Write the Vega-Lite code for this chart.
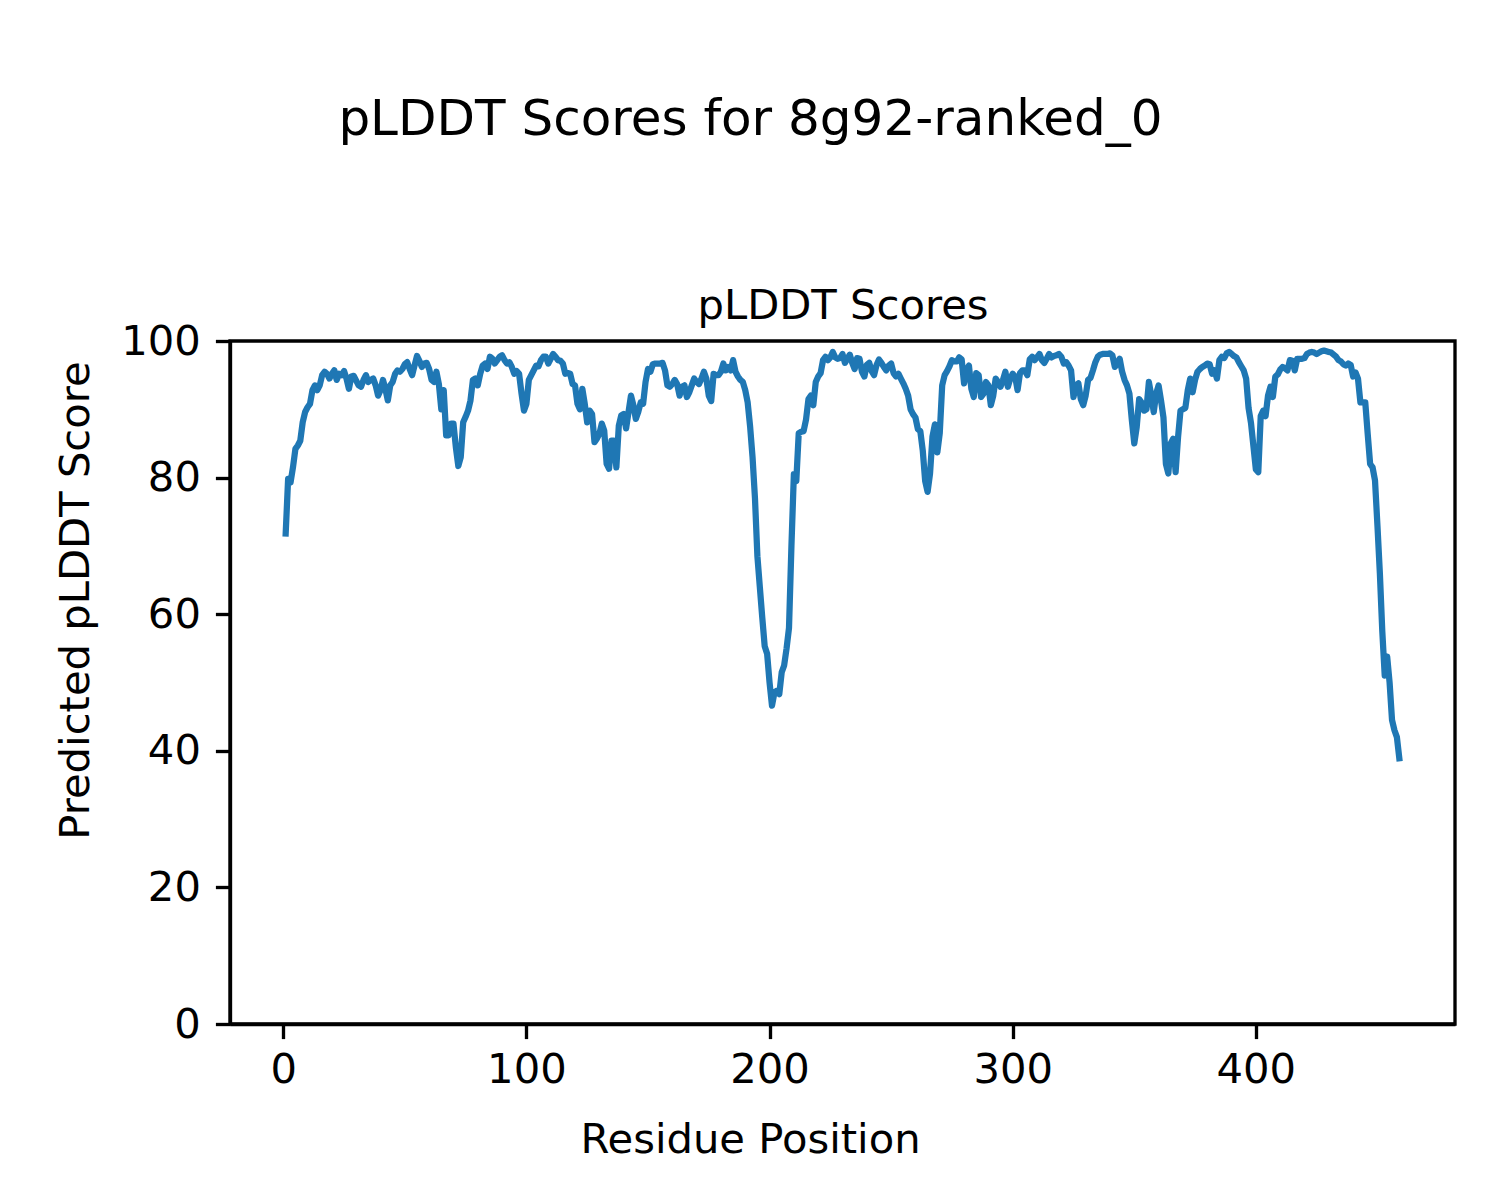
{
"$schema": "https://vega.github.io/schema/vega-lite/v6.json",
"autosize": {"type": "none"},
"width": 1225, "height": 683,
"padding": {"left": 230, "top": 341, "right": 45, "bottom": 176},
"background": "white",
"title": {"text": "pLDDT Scores for 8g92-ranked_0", "fontSize": 50, "font": "DejaVu Sans", "fontWeight": "normal", "color": "black", "anchor": "middle", "frame": "group", "dx": -92, "baseline": "alphabetic", "offset": 100},
"config": {
 "view": {"stroke": "black", "strokeWidth": 3.33},
 "axis": {"labelFont": "DejaVu Sans", "labelFontSize": 41.7, "labelColor": "black", "titleFont": "DejaVu Sans", "titleFontSize": 41.7, "titleFontWeight": "normal", "titleColor": "black", "tickColor": "black", "tickWidth": 3.33, "tickSize": 14.6, "domainColor": "black", "domainWidth": 3.33, "grid": false, "labelFlush": false, "labelOverlap": false}
},
"data": {"values": [
{"r":1,"s":71.8},{"r":2,"s":79.8},{"r":3,"s":79.3},{"r":4,"s":81.5},{"r":5,"s":84.2},{"r":6,"s":84.7},{"r":7,"s":85.4},{"r":8,"s":88.1},{"r":9,"s":89.6},{"r":10,"s":90.3},
{"r":11,"s":90.8},{"r":12,"s":92.8},{"r":13,"s":93.5},{"r":14,"s":92.8},{"r":15,"s":93.5},{"r":16,"s":95},{"r":17,"s":95.5},{"r":18,"s":95.2},{"r":19,"s":94.5},{"r":20,"s":95.2},
{"r":21,"s":95.7},{"r":22,"s":94.3},{"r":23,"s":95.2},{"r":24,"s":95},{"r":25,"s":95.6},{"r":26,"s":94.5},{"r":27,"s":93},{"r":28,"s":94.8},{"r":29,"s":94.9},{"r":30,"s":94.2},
{"r":31,"s":93.5},{"r":32,"s":93.3},{"r":33,"s":94.3},{"r":34,"s":95},{"r":35,"s":94},{"r":36,"s":94.3},{"r":37,"s":94.5},{"r":38,"s":93.5},{"r":39,"s":92},{"r":40,"s":92.8},
{"r":41,"s":94.3},{"r":42,"s":93},{"r":43,"s":91.3},{"r":44,"s":93.5},{"r":45,"s":94},{"r":46,"s":95.2},{"r":47,"s":95.7},{"r":48,"s":95.5},{"r":49,"s":95.9},{"r":50,"s":96.6},
{"r":51,"s":96.9},{"r":52,"s":95.9},{"r":53,"s":95},{"r":54,"s":96.4},{"r":55,"s":97.8},{"r":56,"s":97.1},{"r":57,"s":96.2},{"r":58,"s":96.7},{"r":59,"s":96.8},{"r":60,"s":95.9},
{"r":61,"s":94.3},{"r":62,"s":94},{"r":63,"s":95.5},{"r":64,"s":93.7},{"r":65,"s":90},{"r":66,"s":92.8},{"r":67,"s":86.2},{"r":68,"s":86.2},{"r":69,"s":87.9},{"r":70,"s":87.9},
{"r":71,"s":84.4},{"r":72,"s":81.7},{"r":73,"s":83},{"r":74,"s":88.1},{"r":75,"s":88.9},{"r":76,"s":89.8},{"r":77,"s":91.3},{"r":78,"s":94.3},{"r":79,"s":94.5},{"r":80,"s":93.5},
{"r":81,"s":95.2},{"r":82,"s":96.4},{"r":83,"s":96.7},{"r":84,"s":95.9},{"r":85,"s":97.7},{"r":86,"s":97.4},{"r":87,"s":96.7},{"r":88,"s":97.2},{"r":89,"s":97.7},{"r":90,"s":97.9},
{"r":91,"s":97.2},{"r":92,"s":96.7},{"r":93,"s":96.9},{"r":94,"s":96.2},{"r":95,"s":95.2},{"r":96,"s":95.6},{"r":97,"s":95.2},{"r":98,"s":92.3},{"r":99,"s":89.8},{"r":100,"s":90.8},
{"r":101,"s":94.3},{"r":102,"s":95},{"r":103,"s":95.7},{"r":104,"s":96.4},{"r":105,"s":96.3},{"r":106,"s":97.2},{"r":107,"s":97.7},{"r":108,"s":97.7},{"r":109,"s":96.7},{"r":110,"s":97.4},
{"r":111,"s":98.1},{"r":112,"s":97.7},{"r":113,"s":97.2},{"r":114,"s":97.1},{"r":115,"s":96.7},{"r":116,"s":95.2},{"r":117,"s":95.3},{"r":118,"s":95.2},{"r":119,"s":93.7},{"r":120,"s":93.5},
{"r":121,"s":90.8},{"r":122,"s":90},{"r":123,"s":93},{"r":124,"s":90.8},{"r":125,"s":88.1},{"r":126,"s":89.8},{"r":127,"s":89.3},{"r":128,"s":85.2},{"r":129,"s":85.7},{"r":130,"s":86.4},
{"r":131,"s":87.9},{"r":132,"s":86.9},{"r":133,"s":82},{"r":134,"s":81.3},{"r":135,"s":85.4},{"r":136,"s":85.4},{"r":137,"s":81.5},{"r":138,"s":87.6},{"r":139,"s":89.1},{"r":140,"s":89.3},
{"r":141,"s":87.2},{"r":142,"s":89.6},{"r":143,"s":92},{"r":144,"s":90.6},{"r":145,"s":88.6},{"r":146,"s":89.6},{"r":147,"s":91},{"r":148,"s":90.8},{"r":149,"s":94},{"r":150,"s":95.9},
{"r":151,"s":95.5},{"r":152,"s":96.6},{"r":153,"s":96.7},{"r":154,"s":96.7},{"r":155,"s":96.7},{"r":156,"s":96.8},{"r":157,"s":95.7},{"r":158,"s":93.5},{"r":159,"s":93.3},{"r":160,"s":93.7},
{"r":161,"s":94.3},{"r":162,"s":93.7},{"r":163,"s":92},{"r":164,"s":93.3},{"r":165,"s":93.5},{"r":166,"s":91.8},{"r":167,"s":92.5},{"r":168,"s":93.5},{"r":169,"s":94.5},{"r":170,"s":94},
{"r":171,"s":93.7},{"r":172,"s":94.5},{"r":173,"s":95.5},{"r":174,"s":94.5},{"r":175,"s":92},{"r":176,"s":91.2},{"r":177,"s":95.2},{"r":178,"s":95},{"r":179,"s":95},{"r":180,"s":95.5},
{"r":181,"s":96.7},{"r":182,"s":95.7},{"r":183,"s":96.2},{"r":184,"s":95.7},{"r":185,"s":97.2},{"r":186,"s":95.5},{"r":187,"s":94.8},{"r":188,"s":94.3},{"r":189,"s":94},{"r":190,"s":92.8},
{"r":191,"s":91},{"r":192,"s":87.5},{"r":193,"s":83},{"r":194,"s":77},{"r":195,"s":68.5},{"r":196,"s":64},{"r":197,"s":59.5},{"r":198,"s":55.3},{"r":199,"s":54.2},{"r":200,"s":50},
{"r":201,"s":46.6},{"r":202,"s":48.5},{"r":203,"s":48.8},{"r":204,"s":48.3},{"r":205,"s":51.5},{"r":206,"s":52.5},{"r":207,"s":55},{"r":208,"s":58},{"r":209,"s":70},{"r":210,"s":80.5},
{"r":211,"s":79.5},{"r":212,"s":86.5},{"r":213,"s":86.7},{"r":214,"s":86.8},{"r":215,"s":88.5},{"r":216,"s":91.5},{"r":217,"s":92},{"r":218,"s":90.6},{"r":219,"s":94},{"r":220,"s":94.8},
{"r":221,"s":95.3},{"r":222,"s":97.2},{"r":223,"s":97.7},{"r":224,"s":97.2},{"r":225,"s":97.6},{"r":226,"s":98.4},{"r":227,"s":97.6},{"r":228,"s":97.4},{"r":229,"s":97.5},{"r":230,"s":98.1},
{"r":231,"s":96.8},{"r":232,"s":97.4},{"r":233,"s":98},{"r":234,"s":96.8},{"r":235,"s":95.9},{"r":236,"s":97.5},{"r":237,"s":97.4},{"r":238,"s":95.5},{"r":239,"s":94.8},{"r":240,"s":96.5},
{"r":241,"s":96.8},{"r":242,"s":95.6},{"r":243,"s":95},{"r":244,"s":96.5},{"r":245,"s":97.3},{"r":246,"s":96.8},{"r":247,"s":96.2},{"r":248,"s":95.7},{"r":249,"s":96.4},{"r":250,"s":96.7},
{"r":251,"s":95.3},{"r":252,"s":94.8},{"r":253,"s":95.2},{"r":254,"s":94.5},{"r":255,"s":93.8},{"r":256,"s":93},{"r":257,"s":92},{"r":258,"s":90},{"r":259,"s":89.3},{"r":260,"s":88.8},
{"r":261,"s":87.1},{"r":262,"s":86.8},{"r":263,"s":84},{"r":264,"s":79.5},{"r":265,"s":77.9},{"r":266,"s":80.6},{"r":267,"s":86},{"r":268,"s":87.8},{"r":269,"s":83.7},{"r":270,"s":86.5},
{"r":271,"s":93.5},{"r":272,"s":95},{"r":273,"s":95.6},{"r":274,"s":96.3},{"r":275,"s":97.2},{"r":276,"s":97},{"r":277,"s":97},{"r":278,"s":97.6},{"r":279,"s":97.3},{"r":280,"s":93.8},
{"r":281,"s":95.8},{"r":282,"s":96.4},{"r":283,"s":93},{"r":284,"s":91.8},{"r":285,"s":95.3},{"r":286,"s":95},{"r":287,"s":91.8},{"r":288,"s":92.3},{"r":289,"s":94},{"r":290,"s":93.5},
{"r":291,"s":90.6},{"r":292,"s":92},{"r":293,"s":94.5},{"r":294,"s":94},{"r":295,"s":93.3},{"r":296,"s":94.3},{"r":297,"s":95.5},{"r":298,"s":93.3},{"r":299,"s":94.5},{"r":300,"s":95.2},
{"r":301,"s":94.8},{"r":302,"s":92.8},{"r":303,"s":95.3},{"r":304,"s":95.7},{"r":305,"s":95.7},{"r":306,"s":95},{"r":307,"s":97.3},{"r":308,"s":97.7},{"r":309,"s":97.2},{"r":310,"s":97.6},
{"r":311,"s":98.1},{"r":312,"s":97.2},{"r":313,"s":96.8},{"r":314,"s":97.4},{"r":315,"s":98.1},{"r":316,"s":97.6},{"r":317,"s":97.8},{"r":318,"s":97.9},{"r":319,"s":98.1},{"r":320,"s":97.7},
{"r":321,"s":96.7},{"r":322,"s":96.9},{"r":323,"s":96.4},{"r":324,"s":95.7},{"r":325,"s":91.8},{"r":326,"s":93.5},{"r":327,"s":93.8},{"r":328,"s":91.5},{"r":329,"s":90.6},{"r":330,"s":92},
{"r":331,"s":94.3},{"r":332,"s":94.6},{"r":333,"s":95.7},{"r":334,"s":96.9},{"r":335,"s":97.7},{"r":336,"s":98},{"r":337,"s":98.1},{"r":338,"s":98.1},{"r":339,"s":98.1},{"r":340,"s":98.2},
{"r":341,"s":97.9},{"r":342,"s":96.2},{"r":343,"s":96.7},{"r":344,"s":97.4},{"r":345,"s":95.5},{"r":346,"s":94.3},{"r":347,"s":93.5},{"r":348,"s":92.3},{"r":349,"s":88.4},{"r":350,"s":85},
{"r":351,"s":87.4},{"r":352,"s":91.5},{"r":353,"s":91},{"r":354,"s":89.8},{"r":355,"s":90},{"r":356,"s":94},{"r":357,"s":92},{"r":358,"s":89.6},{"r":359,"s":92.3},{"r":360,"s":93.5},
{"r":361,"s":91.3},{"r":362,"s":88.8},{"r":363,"s":82},{"r":364,"s":80.6},{"r":365,"s":85},{"r":366,"s":85.7},{"r":367,"s":80.8},{"r":368,"s":85.9},{"r":369,"s":89.8},{"r":370,"s":90},
{"r":371,"s":90.2},{"r":372,"s":92.8},{"r":373,"s":94.5},{"r":374,"s":92.5},{"r":375,"s":94.3},{"r":376,"s":95.5},{"r":377,"s":95.9},{"r":378,"s":96.2},{"r":379,"s":96.4},{"r":380,"s":96.7},
{"r":381,"s":96.6},{"r":382,"s":95.2},{"r":383,"s":95.7},{"r":384,"s":94.5},{"r":385,"s":97.2},{"r":386,"s":97.7},{"r":387,"s":97.5},{"r":388,"s":98.2},{"r":389,"s":98.4},{"r":390,"s":98.1},
{"r":391,"s":97.8},{"r":392,"s":97.6},{"r":393,"s":96.9},{"r":394,"s":96.3},{"r":395,"s":95.7},{"r":396,"s":94.5},{"r":397,"s":90.2},{"r":398,"s":88},{"r":399,"s":84.6},{"r":400,"s":81.2},
{"r":401,"s":80.8},{"r":402,"s":89},{"r":403,"s":89.8},{"r":404,"s":89},{"r":405,"s":92},{"r":406,"s":93.3},{"r":407,"s":91.8},{"r":408,"s":94.8},{"r":409,"s":95.1},{"r":410,"s":95.8},
{"r":411,"s":96.2},{"r":412,"s":96},{"r":413,"s":95.7},{"r":414,"s":97.2},{"r":415,"s":97.1},{"r":416,"s":95.7},{"r":417,"s":97.4},{"r":418,"s":97.4},{"r":419,"s":97.4},{"r":420,"s":97.5},
{"r":421,"s":98.1},{"r":422,"s":98.3},{"r":423,"s":98.4},{"r":424,"s":98.3},{"r":425,"s":98.1},{"r":426,"s":98.3},{"r":427,"s":98.5},{"r":428,"s":98.6},{"r":429,"s":98.5},{"r":430,"s":98.4},
{"r":431,"s":98.3},{"r":432,"s":98},{"r":433,"s":97.7},{"r":434,"s":97.2},{"r":435,"s":97},{"r":436,"s":96.6},{"r":437,"s":96.4},{"r":438,"s":96.7},{"r":439,"s":96.5},{"r":440,"s":94.8},
{"r":441,"s":95.4},{"r":442,"s":94.5},{"r":443,"s":91},{"r":444,"s":91},{"r":445,"s":91},{"r":446,"s":86.4},{"r":447,"s":82},{"r":448,"s":81.5},{"r":449,"s":79.6},{"r":450,"s":73},
{"r":451,"s":66},{"r":452,"s":57.5},{"r":453,"s":51},{"r":454,"s":53.8},{"r":455,"s":50},{"r":456,"s":44.5},{"r":457,"s":43},{"r":458,"s":42},{"r":459,"s":38.9}
]},
"layer": [
 {"mark": {"type": "line", "color": "#1f77b4", "strokeWidth": 6.25, "strokeJoin": "round", "strokeCap": "square"},
  "encoding": {
   "x": {"field": "r", "type": "quantitative", "scale": {"domain": [-21.9, 481.9], "nice": false, "zero": false},
         "axis": {"values": [0, 100, 200, 300, 400], "title": "Residue Position", "titleX": 520, "titleY": 128, "titleBaseline": "alphabetic", "titleAlign": "center", "labelPadding": 11}},
   "y": {"field": "s", "type": "quantitative", "scale": {"domain": [0, 100], "nice": false, "zero": false},
         "axis": {"values": [0, 20, 40, 60, 80, 100], "title": "Predicted pLDDT Score", "titleX": -142, "titleY": 259, "titleBaseline": "alphabetic", "titleAlign": "center", "titleAngle": 270, "labelPadding": 15}}
  }},
 {"mark": {"type": "line", "opacity": 0},
  "encoding": {
   "x": {"field": "r", "type": "quantitative", "axis": {"orient": "top", "labels": false, "ticks": false, "domain": false, "title": "pLDDT Scores", "titlePadding": 23, "titleBaseline": "alphabetic"}},
   "y": {"field": "s", "type": "quantitative"}
  }}
],
"resolve": {"axis": {"x": "independent"}}
}
